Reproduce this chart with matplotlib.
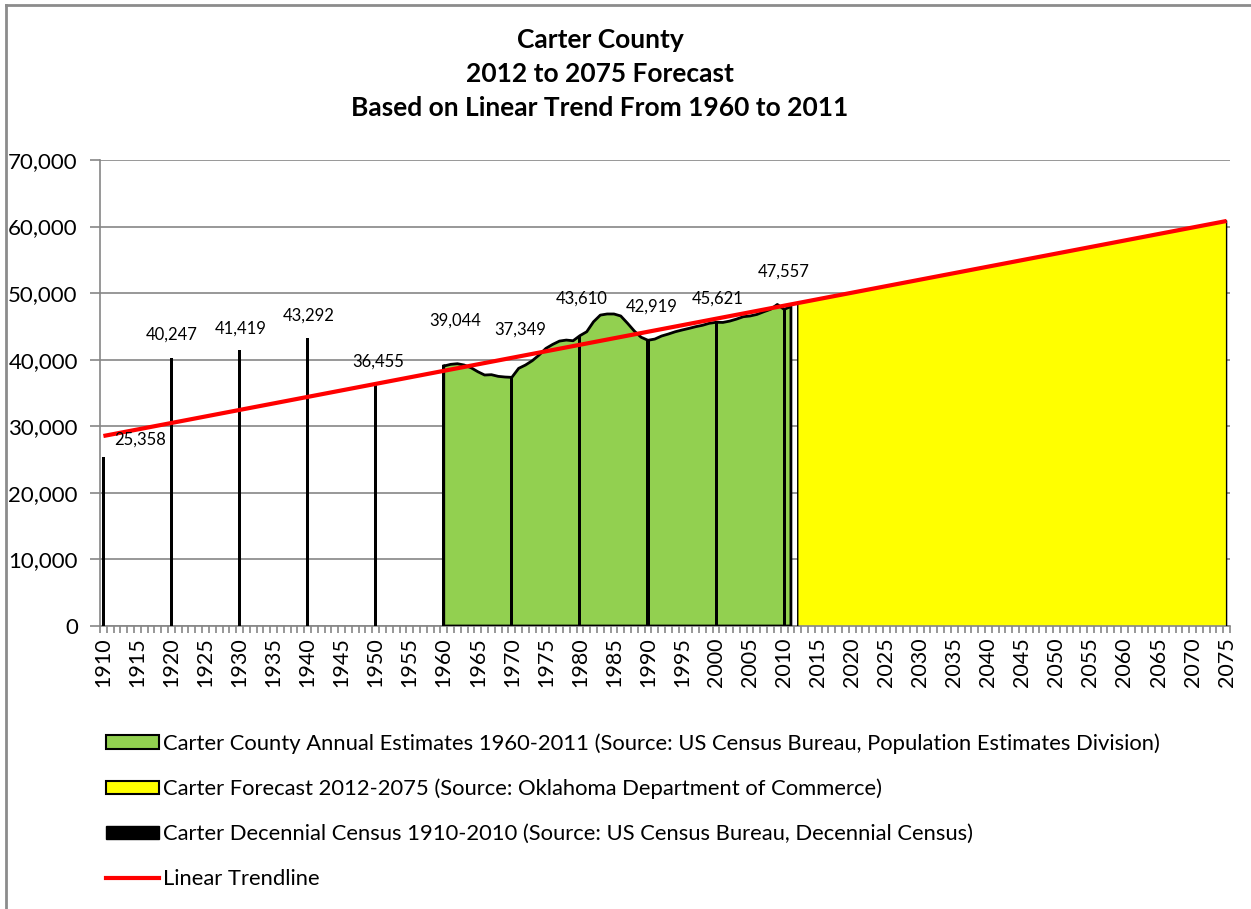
import matplotlib
matplotlib.use("Agg")
import matplotlib.pyplot as plt
import numpy as np
from matplotlib.patches import Patch
from matplotlib.lines import Line2D
from matplotlib.ticker import FuncFormatter, MultipleLocator

plt.rcParams['font.family'] = ['Lato', 'DejaVu Sans']

# ---------------- data ----------------
title_lines = ["Carter County", "2012 to 2075 Forecast", "Based on Linear Trend From 1960 to 2011"]

census_years = [1910, 1920, 1930, 1940, 1950, 1960, 1970, 1980, 1990, 2000, 2010]
census_values = [25358, 40247, 41419, 43292, 36455, 39044, 37349, 43610, 42919, 45621, 47557]
# label anchor positions (year, value) as placed in the reference
census_label_x = [1915.4, 1920.1, 1930.1, 1940.1, 1950.4, 1961.7, 1971.2, 1980.3, 1990.6, 2000.3, 2009.9]
census_label_y = [27940, 43710, 44610, 46570, 39660, 45820, 44460, 49120, 47920, 49120, 53180]

est_years = list(range(1960, 2012))
est_values = [39044, 39300, 39400, 39200, 38800, 38200, 37700, 37750, 37500, 37400,
              37349, 38700, 39200, 39850, 40700, 41700, 42300, 42800, 42950, 42850,
              43610, 44200, 45700, 46700, 46870, 46870, 46570, 45470, 44300, 43370,
              42919, 43100, 43560, 43860, 44200, 44460, 44700, 44960, 45170, 45470,
              45621, 45600, 45800, 46100, 46460, 46570, 46800, 47200, 47570, 48300,
              47557, 48000]

fc_years = list(range(2012, 2076))
fc_values = [48510, 48710, 48900, 49100, 49290, 49490, 49690, 49880, 50080, 50270,
             50470, 50670, 50860, 51060, 51250, 51450, 51650, 51840, 52040, 52240,
             52430, 52630, 52820, 53020, 53220, 53410, 53610, 53800, 54000, 54200,
             54390, 54590, 54790, 54980, 55180, 55370, 55570, 55770, 55960, 56160,
             56350, 56550, 56750, 56940, 57140, 57330, 57530, 57730, 57920, 58120,
             58320, 58510, 58710, 58900, 59100, 59300, 59490, 59690, 59880, 60080,
             60280, 60470, 60670, 60860]

trend_years = [1910, 2075]
trend_values = [28540, 60840]

legend_labels = [
    "Carter County Annual Estimates 1960-2011 (Source: US Census Bureau, Population Estimates Division)",
    "Carter Forecast 2012-2075 (Source: Oklahoma Department of Commerce)",
    "Carter Decennial Census 1910-2010 (Source: US Census Bureau, Decennial Census)",
    "Linear Trendline",
]

# ---------------- figure ----------------
W, H = 1251, 909
fig = plt.figure(figsize=(W / 100, H / 100), dpi=100)
fig.patch.set_facecolor("white")

L, R, T, B = 100, 1230, 160, 626
ax = fig.add_axes([L / W, 1 - B / H, (R - L) / W, (B - T) / H])

gray = "#868686"
ax.set_xlim(1909.5, 2075.5)
ax.set_ylim(0, 70000)
ax.yaxis.set_major_locator(MultipleLocator(10000))
ax.yaxis.set_major_formatter(FuncFormatter(lambda v, p: f"{int(v):,}"))
ax.grid(axis="y", color=gray, linewidth=1.2, zorder=0)
ax.set_axisbelow(True)

ax.set_xticks(np.arange(1910, 2076, 5))
ax.set_xticks(np.arange(1909.5, 2076, 1), minor=True)
ax.tick_params(axis="x", which="major", length=0, labelrotation=90, labelsize=15.5, pad=8)
ax.tick_params(axis="x", which="minor", length=5, color=gray, width=1.2)
ax.tick_params(axis="y", which="major", length=7, color=gray, width=1.2, labelsize=16, pad=9)

for s in ["top", "right"]:
    ax.spines[s].set_visible(False)
for s in ["left", "bottom"]:
    ax.spines[s].set_color(gray)
    ax.spines[s].set_linewidth(1.2)

# areas
ax.fill_between(est_years, est_values, 0, facecolor="#92D050", edgecolor="none", zorder=2)
ax.plot(est_years + [est_years[-1], est_years[0], est_years[0]],
        est_values + [0, 0, est_values[0]], color="black", linewidth=2, zorder=3)
ax.fill_between(fc_years, fc_values, 0, facecolor="#FFFF00", edgecolor="none", zorder=2)
ax.plot([fc_years[0]] + fc_years + [fc_years[-1]],
        [0] + fc_values + [0], color="black", linewidth=1, zorder=3)

# census bars
ax.bar(census_years, census_values, width=0.45, color="black", zorder=4)
for xl, yl, v in zip(census_label_x, census_label_y, census_values):
    ax.text(xl, yl, f"{v:,}", ha="center", va="center", fontsize=12, zorder=6)

# trendline
ax.plot(trend_years, trend_values, color="#FF0000", linewidth=3, zorder=5, solid_capstyle="butt")

# title
for i, line in enumerate(title_lines):
    fig.text(600 / W, 1 - (40 + 34 * i) / H, line, ha="center", va="center",
             fontsize=19, fontweight="bold")

# legend
handles = [
    Patch(facecolor="#92D050", edgecolor="black", linewidth=1.5),
    Patch(facecolor="#FFFF00", edgecolor="black", linewidth=1.5),
    Patch(facecolor="black", edgecolor="black"),
    Line2D([0], [0], color="#FF0000", linewidth=3),
]
fig.legend(handles, legend_labels, loc="upper left", bbox_to_anchor=(106 / W, 1 - 733 / H),
           frameon=False, fontsize=15.8, handlelength=2.4, handleheight=0.6,
           handletextpad=0.22, labelspacing=1.14, borderpad=0, borderaxespad=0)

# chart border (top and left visible)
fig.add_artist(Line2D([6 / W, 6 / W], [0, 1 - 5 / H], transform=fig.transFigure,
                      color="#8c8c8c", linewidth=2))
fig.add_artist(Line2D([6 / W, 1], [1 - 5 / H, 1 - 5 / H], transform=fig.transFigure,
                      color="#8c8c8c", linewidth=2))

fig.savefig("out.png", dpi=100, facecolor="white")
